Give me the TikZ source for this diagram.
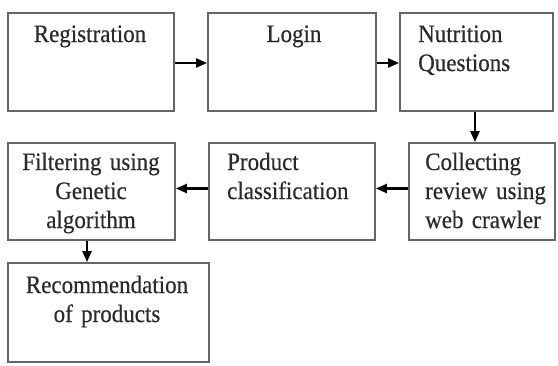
\documentclass[tikz,border=0pt]{standalone}
\usepackage{fontspec}
\setmainfont[FakeStretch=0.92,FakeBold=0.4]{Liberation Serif}
\usetikzlibrary{arrows.meta}
\definecolor{boxline}{HTML}{666666}
\definecolor{txtcol}{HTML}{2A2A2A}
\begin{document}
\begin{tikzpicture}[x=1pt,y=1pt,
  box/.style={draw=boxline, line width=1.8pt, rectangle, inner sep=0pt, minimum height=98pt},
  txt/.style={inner sep=0pt, anchor=base, text=txtcol, font=\fontsize{25}{29}\selectfont},
  arr/.style={line width=2.2pt, black, -{Triangle[length=11pt,width=9pt]}}]
\useasboundingbox (0,0) rectangle (558,-365);
% boxes
\node[box, minimum width=166pt] (reg)   at (91,-62) {};
\node[box, minimum width=168pt] (login) at (292,-62) {};
\node[box, minimum width=153pt] (nutr)  at (476.5,-62) {};
\node[box, minimum width=167pt, minimum height=97pt] (filt) at (91.5,-191.5) {};
\node[box, minimum width=166pt, minimum height=97pt] (prod) at (292,-191.5) {};
\node[box, minimum width=146pt, minimum height=97pt] (coll) at (482,-191.5) {};
\node[box, minimum width=201pt, minimum height=99pt] (rec)  at (108.5,-312.5) {};
% texts
\node[txt, text width=180pt, align=center] (treg) at (90,-42) {Registration};
\node[txt, text width=160pt, align=center] (tlogin) at (294,-42) {Login};
\node[txt, text width=160pt, align=left, anchor=base west] (tnutr) at (418,-42) {Nutrition\\Questions};
\node[txt, text width=180pt, align=center] (tfilt) at (91,-170) {Filtering using\\Genetic\\algorithm};
\node[txt, text width=180pt, align=left, anchor=base west] (tprod) at (227,-170) {Product\\classification};
\node[txt, text width=180pt, align=left, anchor=base west] (tcoll) at (425,-170) {Collecting\\review using\\web crawler};
\node[txt, text width=220pt, align=center] (trec) at (107,-293) {Recommendation\\of products};
% connectors
\draw[arr] ([yshift=-1pt]reg.east) -- ([yshift=-1pt]login.west);
\draw[arr] ([yshift=-1pt]login.east) -- ([yshift=-1pt]nutr.west);
\draw[arr] ([xshift=-1.5pt]nutr.south) -- ([xshift=-1.5pt]nutr.south |- coll.north);
\draw[arr] ([yshift=3pt]coll.west) -- ([yshift=3pt]prod.east);
\draw[arr] ([yshift=3pt]prod.west) -- ([yshift=3pt]filt.east);
\draw[arr] ([xshift=-4.5pt]filt.south) -- ([xshift=-4.5pt]filt.south |- rec.north);
\end{tikzpicture}
\end{document}
